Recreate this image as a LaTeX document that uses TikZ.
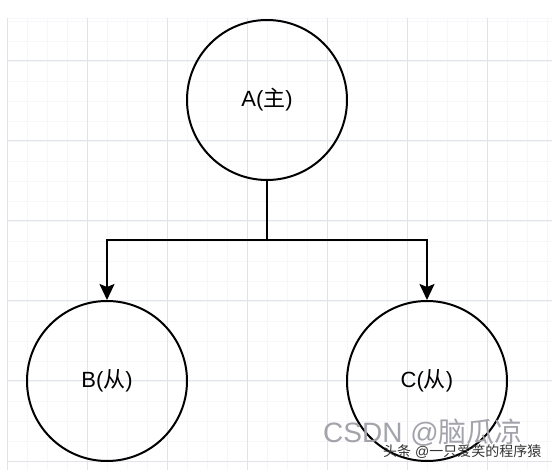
\documentclass[tikz,border=0pt]{standalone}
\usepackage{fontspec}
\setmainfont{Liberation Sans}
\newfontfamily\zhfont{Noto Sans CJK SC}
\newcommand{\zh}[1]{{\zhfont #1}}
\usepackage{xcolor}
\usepackage{tikz}
\usetikzlibrary{arrows.meta}

\definecolor{gridmajor}{HTML}{E1E3EA}
\definecolor{gridminor}{HTML}{F6F7FA}
\definecolor{markgray}{HTML}{A3A3AB}

\begin{document}
\begin{tikzpicture}[x=1pt,y=-1pt,
    bubble/.style={draw=black,line width=2pt,circle,inner sep=0pt,
                   minimum size=160pt,font=\fontsize{22}{26}\selectfont},
    link/.style={draw=black,line width=2pt,line join=miter}]
\useasboundingbox (0,0) rectangle (552,470);
\fill[white] (0,0) rectangle (552,470);

    % grid
    \foreach \x in {7,27,...,547}
        \draw[gridminor,line width=0.8pt] (\x,18) -- (\x,470);
    \foreach \y in {21,41,...,461}
        \draw[gridminor,line width=0.8pt] (7,\y) -- (552,\y);
    \draw[gridminor,line width=0.8pt] (7,18) -- (552,18);
    \foreach \x in {7,87,...,487}
        \draw[gridmajor,line width=1pt] (\x,18) -- (\x,470);
    \foreach \y in {61,141,...,461}
        \draw[gridmajor,line width=1pt] (7,\y) -- (552,\y);

\begin{scope}[>={Stealth[length=16pt,width=15pt,inset=3pt]}]

    \node[bubble] (A) at (267,100) {A(\zh{主})};
    \node[bubble] (B) at (107,381) {B(\zh{从})};
    \node[bubble] (C) at (427,381) {C(\zh{从})};

    \coordinate (fork) at (267,240);
    \draw[link] (A.south) -- (fork);
    \draw[link,->] (fork) -| (B.north);
    \draw[link,->] (fork) -| (C.north);

    % watermarks
    \node[anchor=west,inner sep=0pt,text=markgray,
          font=\fontsize{28}{32}\selectfont] (csdn) at (323,433) {CSDN @\zh{脑瓜凉}};
    \node[anchor=west,inner sep=0pt,text=black!80,
          font=\fontsize{14}{16}\selectfont] (toutiao) at (383,452) {\zh{头条} @\zh{一只爱笑的程序猿}};
\end{scope}
\end{tikzpicture}
\end{document}
